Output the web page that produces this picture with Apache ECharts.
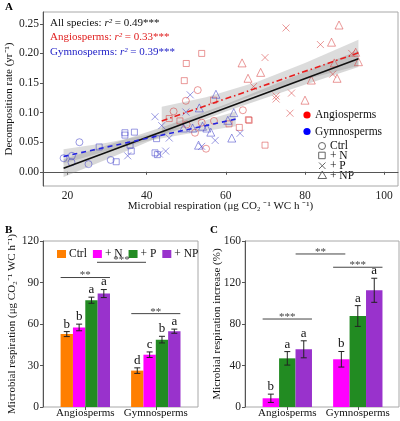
<!DOCTYPE html>
<html><head><meta charset="utf-8">
<script src="https://cdn.jsdelivr.net/npm/echarts@6/dist/echarts.min.js"></script>
<style>html,body{margin:0;padding:0;background:#fff}#c{width:400px;height:421px}</style>
</head><body><div id="c"></div>
<script>
// ---------- Panel A data (x: microbial respiration, y: decomposition rate) ----------
const angioCtrl = [[46.8,0.102],[49.9,0.120],[52.9,0.138],[50.1,0.080],[52.2,0.066],[53.9,0.083],[57.0,0.086],[55.0,0.039],[64.3,0.104]];
const angioN = [[53.9,0.200],[50.0,0.183],[49.5,0.154],[56.9,0.121],[45.7,0.090],[48.4,0.086],[65.7,0.088],[65.9,0.087],[60.8,0.081],[63.4,0.075],[69.9,0.045]];
const angioP = [[75.2,0.243],[83.9,0.215],[91.8,0.200],[69.9,0.193],[87.0,0.165],[67.0,0.144],[72.7,0.128],[72.7,0.123],[76.6,0.133],[76.2,0.099]];
const angioNP = [[88.6,0.248],[86.7,0.219],[92.8,0.202],[93.5,0.186],[87.4,0.184],[64.1,0.184],[68.8,0.168],[65.6,0.158],[88.1,0.158],[81.6,0.155],[80.0,0.121]];
const gymnoCtrl = [[19.0,0.023],[21.1,0.027],[21.0,0.016],[23.0,0.050],[25.3,0.013],[30.9,0.020]];
const gymnoN = [[28.0,0.042],[32.3,0.017],[34.5,0.066],[34.5,0.062],[36.9,0.067],[36.1,0.035],[35.8,0.045],[42.1,0.032],[42.7,0.029],[42.5,0.056]];
const gymnoP = [[35.2,0.027],[43.2,0.030],[44.8,0.035],[42.1,0.093],[43.8,0.078],[45.7,0.057],[49.9,0.101],[51.0,0.130],[53.9,0.043],[57.3,0.053],[63.6,0.065]];
const gymnoNP = [[53.3,0.108],[57.5,0.131],[62.0,0.100],[60.5,0.087],[61.5,0.057],[49.3,0.074],[51.6,0.074],[54.1,0.077],[55.2,0.074],[56.2,0.067],[53.1,0.045]];
// fitted lines (end points) and 95% confidence bands [x, lower, upper]
const fitAll = [[19,0.006],[93.5,0.191]];
const fitAngio = [[43.8,0.086],[93.5,0.201]];
const fitGymno = [[19,0.026],[62.5,0.089]];
const bandAll = [[19,-0.009,0.021],[30,0.021,0.045],[45,0.064,0.078],[60,0.102,0.114],[75,0.136,0.155],[93.5,0.177,0.205]];
const bandAngio = [[43.8,0.062,0.110],[55,0.098,0.126],[68,0.132,0.152],[80,0.156,0.184],[93.5,0.179,0.223]];
const bandGymno = [[19,0.014,0.038],[30,0.035,0.049],[40,0.052,0.062],[50,0.064,0.078],[62.5,0.077,0.102]];
const xTicksA = [20,40,60,80,100];
const yTicksA = [0,0.05,0.10,0.15,0.20,0.25];
const statsA = [['All species: ','0.49***'],['Angiosperms: ','0.33***'],['Gymnosperms: ','0.39***']];

// ---------- Panel B data (microbial respiration) ----------
const groups = ['Angiosperms','Gymnosperms'];
const treatB = ['Ctrl','+ N','+ P','+ NP'];
const respCtrl = [52.7,26.3], respN = [57.5,37.8], respP = [77.2,48.7], respNP = [82.0,54.8];
const respCtrlSE = [1.8,2.0], respNSE = [2.4,2.0], respPSE = [2.2,2.4], respNPSE = [2.9,1.5];
const respCtrlLet = ['b','d'], respNLet = ['b','c'], respPLet = ['a','b'], respNPLet = ['a','a'];
const sigBLabels = ['**','***','**'];
const sigBHeights = [93.6,104.6,67.5];
const yTicksB = [0,30,60,90,120];

// ---------- Panel C data (respiration increase, %) ----------
const treatC = ['+ N','+ P','+ NP'];
const incN = [8.4,46.0], incP = [46.9,87.7], incNP = [55.6,112.5];
const incNSE = [4.0,7.5], incPSE = [6.5,10.0], incNPSE = [8.2,11.6];
const incNLet = ['b','b'], incPLet = ['a','a'], incNPLet = ['a','a'];
const sigCLabels = ['***','**','***'];
const sigCHeights = [84.8,147.5,134.7];
const yTicksC = [0,40,80,120,160];

// ---------- styling / layout ----------
const FONT = 'Liberation Serif';
const RED_PT = 'rgba(214,60,60,0.65)', BLUE_PT = 'rgba(60,60,200,0.65)';
const barColorsB = ['#FF7F00','#FF00FF','#228B22','#9932CC'];
const barColorsC = ['#FF00FF','#228B22','#9932CC'];
const BW_B = 12.35, BW_C = 16.45;
// bracket spans in category-band units measured from the first category centre
const sigBSpans = [[-0.35,0.35],[0.166,0.861],[0.652,1.348]];
const sigCSpans = [[-0.35,0.35],[0.118,0.823],[0.65,1.35]];
const AX = '#555', BORDER = '#a8a8a8';

const chart = echarts.init(document.getElementById('c'));

function scatter(data, symbol, size, color) {
  return {type:'scatter', xAxisIndex:0, yAxisIndex:0, data, symbol, symbolSize:size, silent:true, z:3,
    itemStyle:{color:'rgba(0,0,0,0)', borderColor:color, borderWidth:1}};
}
function band(rows, color) {
  return {type:'custom', xAxisIndex:0, yAxisIndex:0, data:rows, silent:true, z:1,
    renderItem(params, api) {
      if (params.dataIndex !== 0) return null;
      const up = rows.map(r => api.coord([r[0], r[2]]));
      const lo = rows.map(r => api.coord([r[0], r[1]])).reverse();
      return {type:'polygon', shape:{points:up.concat(lo)}, style:{fill:color}};
    }};
}
function fitLine(data, color, type) {
  return {type:'line', xAxisIndex:0, yAxisIndex:0, data, symbol:'none', silent:true, z:4,
    lineStyle:{color, width:1.6, type}};
}
function errSeries(ax, means, ses, letters, k, n, bw) {
  return {type:'custom', xAxisIndex:ax, yAxisIndex:ax, silent:true, z:4,
    data: groups.map((g,i)=>[g, means[i], ses[i]]),
    renderItem(params, api) {
      const i = params.dataIndex;
      const m = api.value(1), s = api.value(2);
      const top = api.coord([api.value(0), m + s]);
      const bot = api.coord([api.value(0), m - s]);
      const x = top[0] + (k - (n-1)/2) * bw;
      const st = {stroke:'#222', lineWidth:1};
      return {type:'group', children:[
        {type:'line', shape:{x1:x,y1:top[1],x2:x,y2:bot[1]}, style:st},
        {type:'line', shape:{x1:x-3,y1:top[1],x2:x+3,y2:top[1]}, style:st},
        {type:'line', shape:{x1:x-3,y1:bot[1],x2:x+3,y2:bot[1]}, style:st},
        {type:'text', style:{text:letters[i], x:x, y:top[1]-1, align:'center', verticalAlign:'bottom',
          font:'13px "'+FONT+'"', fill:'#111'}}
      ]};
    }};
}
function sigSeries(ax, spans, heights, labels) {
  return {type:'custom', xAxisIndex:ax, yAxisIndex:ax, silent:true, z:5,
    data: heights.map(h => [groups[0], h]),
    renderItem(params, api) {
      const i = params.dataIndex;
      const bandW = api.size([1,0])[0];
      const p = api.coord([api.value(0), api.value(1)]);
      const x1 = p[0] + spans[i][0]*bandW, x2 = p[0] + spans[i][1]*bandW;
      return {type:'group', children:[
        {type:'line', shape:{x1, y1:p[1], x2, y2:p[1]}, style:{stroke:'#444', lineWidth:1}},
        {type:'text', style:{text:labels[i], x:(x1+x2)/2, y:p[1]-2, align:'center', verticalAlign:'middle',
          font:'11px "'+FONT+'"', fill:'#444'}}
      ]};
    }};
}
const lblStyle = {color:'#222', fontSize:11.5, fontFamily:FONT};
const nameStyle = {color:'#111', fontSize:11, fontFamily:FONT};
function valueAxisShown(grid, min, max, ticks, fmt, name, gap) {
  return {type:'value', gridIndex:grid, min, max, splitLine:{show:false},
    axisLine:{show:true, lineStyle:{color:AX}},
    axisTick:{show:true, length:3, customValues:ticks, lineStyle:{color:AX}},
    axisLabel:Object.assign({customValues:ticks, margin:4, formatter:fmt}, lblStyle),
    name, nameLocation:'middle', nameGap:gap, nameMoveOverlap:false, nameTextStyle:nameStyle};
}
const hiddenAxis = (grid, type, min, max) => ({type, gridIndex:grid, min, max, show:false});

const gridBase = {outerBoundsMode:'none', containLabel:false};
const grids = [
  Object.assign({left:43, top:12, width:355, height:174, show:true, borderColor:BORDER, borderWidth:1}, gridBase),
  Object.assign({left:43, top:241, width:155, height:166, show:true, borderColor:BORDER, borderWidth:1}, gridBase),
  Object.assign({left:50.05, top:241, width:141, height:166}, gridBase),
  Object.assign({left:245, top:241, width:154, height:166, show:true, borderColor:BORDER, borderWidth:1}, gridBase),
  Object.assign({left:252.05, top:241, width:141, height:166}, gridBase)
];
const catAxis = (grid) => ({type:'category', gridIndex:grid, data:groups,
  axisLine:{show:false}, axisTick:{show:true, alignWithLabel:true, length:3, lineStyle:{color:AX}},
  axisLabel:{margin:1, fontSize:11, interval:0, color:'#111', fontFamily:FONT, hideOverlap:false}});

const xAxes = [
  valueAxisShown(0, 13.8, 103.5, xTicksA, v=>String(v), 'Microbial respiration (μg CO₂ ⁻¹ WC h ⁻¹)', 14.5),
  hiddenAxis(1, 'value', 0, 1),
  catAxis(2),
  hiddenAxis(3, 'value', 0, 1),
  catAxis(4)
];
const yAxes = [
  valueAxisShown(0, -0.024, 0.27, yTicksA, v=>v.toFixed(2), 'Decomposition rate (yr⁻¹)', 28.5),
  valueAxisShown(1, 0, 120, yTicksB, v=>String(v), 'Microbial respiration (μg CO₂⁻¹ WC h⁻¹)', 25),
  hiddenAxis(2, 'value', 0, 120),
  valueAxisShown(3, 0, 160, yTicksC, v=>String(v), 'Microbial respiration increase (%)', 22),
  hiddenAxis(4, 'value', 0, 160)
];

const series = [
  band(bandAll, 'rgba(140,140,140,0.35)'),
  band(bandAngio, 'rgba(140,140,140,0.30)'),
  band(bandGymno, 'rgba(140,140,140,0.30)'),
  scatter(angioCtrl, 'circle', 7, RED_PT),
  scatter(angioN, 'rect', 6, RED_PT),
  scatter(angioP, 'path://M0 0L10 10M10 0L0 10', 7, RED_PT),
  scatter(angioNP, 'triangle', 8, RED_PT),
  scatter(gymnoCtrl, 'circle', 7, BLUE_PT),
  scatter(gymnoN, 'rect', 6, BLUE_PT),
  scatter(gymnoP, 'path://M0 0L10 10M10 0L0 10', 7, BLUE_PT),
  scatter(gymnoNP, 'triangle', 8, BLUE_PT),
  fitLine(fitAll, '#111', 'solid'),
  fitLine(fitAngio, '#e81c1c', [6,3,1.5,3]),
  fitLine(fitGymno, '#2424e0', [5,4])
];
const bMeans = [respCtrl, respN, respP, respNP];
const bSE = [respCtrlSE, respNSE, respPSE, respNPSE];
const bLet = [respCtrlLet, respNLet, respPLet, respNPLet];
treatB.forEach((t,k) => {
  series.push({type:'bar', name:t, xAxisIndex:2, yAxisIndex:2, data:bMeans[k], barWidth:BW_B, barGap:'0%',
    itemStyle:{color:barColorsB[k]}, z:2, silent:true});
  series.push(errSeries(2, bMeans[k], bSE[k], bLet[k], k, 4, BW_B));
});
series.push(sigSeries(2, sigBSpans, sigBHeights, sigBLabels));
const cMeans = [incN, incP, incNP];
const cSE = [incNSE, incPSE, incNPSE];
const cLet = [incNLet, incPLet, incNPLet];
treatC.forEach((t,k) => {
  series.push({type:'bar', name:t+' ', xAxisIndex:4, yAxisIndex:4, data:cMeans[k], barWidth:BW_C, barGap:'0%',
    itemStyle:{color:barColorsC[k]}, z:2, silent:true});
  series.push(errSeries(4, cMeans[k], cSE[k], cLet[k], k, 3, BW_C));
});
series.push(sigSeries(4, sigCSpans, sigCHeights, sigCLabels));

// text and legend decorations
const txt = (x, y, text, fill, size, weight) => ({type:'text', x, y, silent:true,
  style:{text, fill, font:(weight||'normal')+' '+size+'px "'+FONT+'"', verticalAlign:'middle', align:'left'}});
const statColors = ['#111','#e02020','#2424c8'];
const graphics = [
  txt(5, 7, 'A', '#000', 11, 'bold'),
  txt(5, 230, 'B', '#000', 11, 'bold'),
  txt(210, 230, 'C', '#000', 11, 'bold')
];
statsA.forEach((s,i) => {
  graphics.push({type:'text', x:50, y:23 + i*14.6, silent:true, style:{
    text:'{n|'+s[0]+'}{i|r²}{n| = '+s[1]+'}', verticalAlign:'middle', align:'left', fill:statColors[i],
    rich:{n:{fontFamily:FONT, fontSize:11, fill:statColors[i]}, i:{fontFamily:FONT, fontSize:11, fontStyle:'italic', fill:statColors[i]}}}});
});
// legend in panel A
graphics.push({type:'circle', shape:{cx:307, cy:115, r:3.6}, style:{fill:'#ff0000'}, silent:true});
graphics.push(txt(315, 115, 'Angiosperms', '#111', 11.5));
graphics.push({type:'circle', shape:{cx:307, cy:131.5, r:3.6}, style:{fill:'#0000ff'}, silent:true});
graphics.push(txt(315, 131.5, 'Gymnosperms', '#111', 11.5));
const LG = '#666';
graphics.push({type:'circle', shape:{cx:322, cy:146, r:3.5}, style:{fill:'none', stroke:LG, lineWidth:1}, silent:true});
graphics.push(txt(330, 146, 'Ctrl', '#111', 11.5));
graphics.push({type:'rect', shape:{x:318.7, y:152.2, width:6.5, height:6.5}, style:{fill:'none', stroke:LG, lineWidth:1}, silent:true});
graphics.push(txt(330, 155.5, '+ N', '#111', 11.5));
graphics.push({type:'polyline', shape:{points:[[319,162.5],[325.5,169]]}, style:{stroke:LG, lineWidth:1}, silent:true});
graphics.push({type:'polyline', shape:{points:[[325.5,162.5],[319,169]]}, style:{stroke:LG, lineWidth:1}, silent:true});
graphics.push(txt(330, 165.5, '+ P', '#111', 11.5));
graphics.push({type:'polygon', shape:{points:[[322.3,171],[326.6,178.5],[318,178.5]]}, style:{fill:'none', stroke:LG, lineWidth:1}, silent:true});
graphics.push(txt(330, 175.5, '+ NP', '#111', 11.5));

chart.setOption({
  animation:false,
  backgroundColor:'#fff',
  textStyle:{fontFamily:FONT},
  grid:grids, xAxis:xAxes, yAxis:yAxes, series,
  legend:{data:treatB, left:52, top:243, itemWidth:9, itemHeight:8, itemGap:6, icon:'rect', selectedMode:false,
    textStyle:{fontFamily:FONT, fontSize:11.5, color:'#111', padding:[0,0,0,-2]}},
  graphic:graphics
});
</script></body></html>
